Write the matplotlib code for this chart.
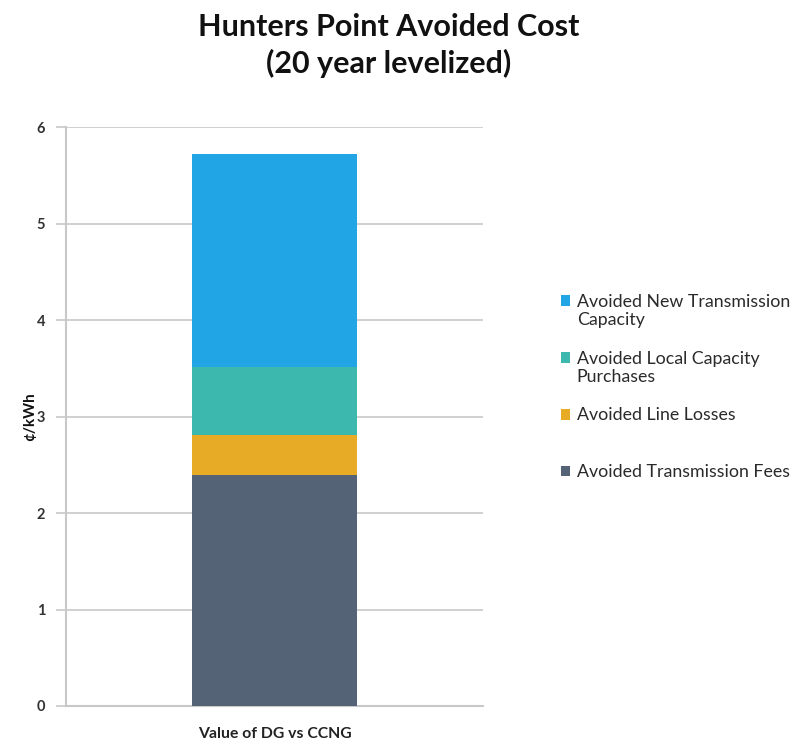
import matplotlib
matplotlib.use("Agg")
import matplotlib.pyplot as plt
from matplotlib.patches import Rectangle, Patch
from matplotlib.legend_handler import HandlerPatch

plt.rcParams['font.family'] = ['Lato', 'DejaVu Sans']

category = ["Value of DG vs CCNG"]
series_names = [
    "Avoided Transmission Fees",
    "Avoided Line Losses",
    "Avoided Local Capacity\nPurchases",
    "Avoided New Transmission\nCapacity",
]
series_values = [2.39, 0.42, 0.70, 2.21]
series_colors = ["#546375", "#E8AB25", "#3DB8AE", "#22A5E5"]
yticks = [0, 1, 2, 3, 4, 5, 6]


class TopHandler(HandlerPatch):
    def create_artists(self, legend, orig_handle, xdescent, ydescent, width, height, fontsize, trans):
        shift = 0.6 * fontsize
        p = Rectangle((-xdescent, -ydescent + shift), width, height,
                      facecolor=orig_handle.get_facecolor(), edgecolor='none')
        p.set_transform(trans)
        return [p]


fig = plt.figure(figsize=(7.93, 7.40), dpi=100)
ax = fig.add_axes([0.0832, 0.046, 0.526, 0.782])

bottom = 0.0
for name, val, col in zip(series_names, series_values, series_colors):
    ax.bar(0, val, width=0.394, bottom=bottom, color=col, label=name, zorder=3)
    bottom += val

ax.set_xlim(-0.5, 0.5)
ax.set_ylim(0, 6)
ax.set_yticks(yticks)
ax.set_yticklabels([str(t) for t in yticks], fontsize=10.5, fontweight='bold', color='#333333')
ax.set_xticks([0])
ax.set_xticklabels(category, fontsize=11.3, fontweight='bold', color='#222222')
ax.tick_params(axis='x', length=0, pad=15)
ax.tick_params(axis='y', length=7, width=1.2, color='#c8c8c8', pad=8)
ax.grid(axis='y', color='#c8c8c8', linewidth=1.2, zorder=0)
for s in ['top', 'right']:
    ax.spines[s].set_visible(False)
ax.spines['left'].set_color('#c8c8c8')
ax.spines['left'].set_linewidth(1.5)
ax.spines['bottom'].set_color('#c8c8c8')
ax.spines['bottom'].set_linewidth(1.5)
ax.set_ylabel("¢/kWh", fontsize=11, fontweight='bold', labelpad=0, color='#111111')

fig.text(0.49, 0.982, "Hunters Point Avoided Cost\n(20 year levelized)", ha='center', va='top',
         fontsize=22, fontweight='bold', linespacing=1.32, color='#111111')

handles = [Patch(facecolor=c) for c in series_colors][::-1]
labels2 = [l if "\n" in l else l + "\n " for l in series_names][::-1]
leg = fig.legend(handles, labels2, loc='upper left', bbox_to_anchor=(0.707, 0.603),
                 frameon=False, fontsize=12.8, handlelength=0.55, handleheight=0.55,
                 handletextpad=0.35, labelspacing=1.25, borderaxespad=0, borderpad=0,
                 handler_map={Patch: TopHandler()})
for t in leg.get_texts():
    t.set_color('#2a2a2a')

fig.savefig("out.png", dpi=100)
